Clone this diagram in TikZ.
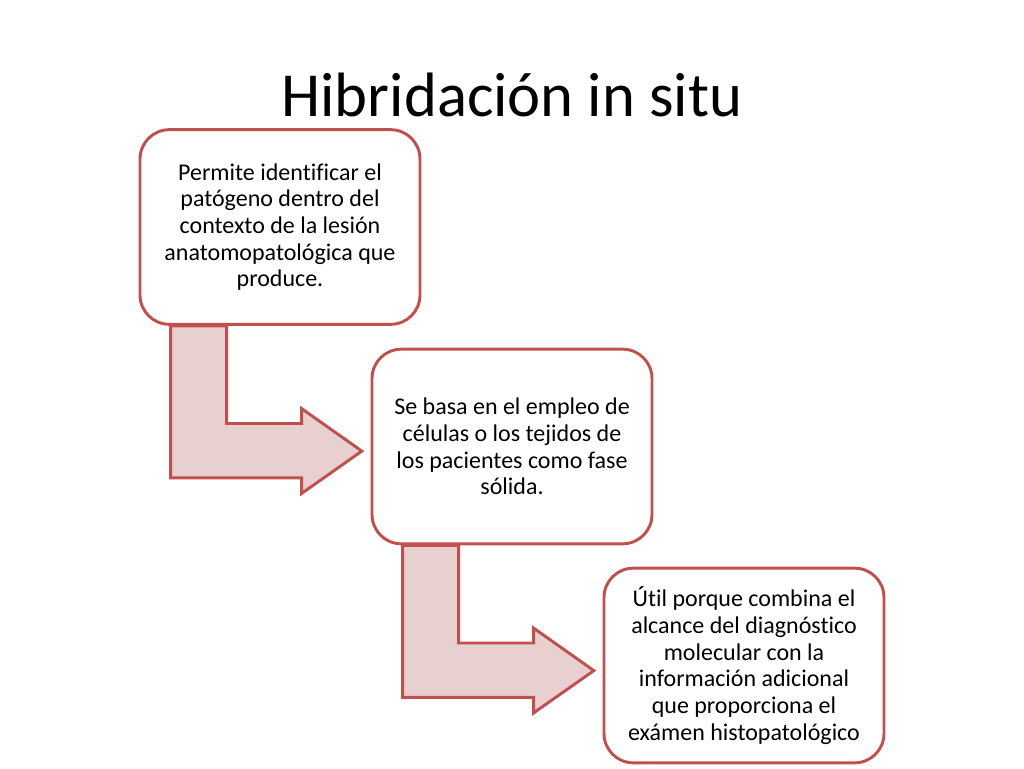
\documentclass[tikz,border=0pt]{standalone}
\usepackage{fontspec}
\setmainfont{Carlito}[Ligatures={NoCommon}]
\usetikzlibrary{calc,backgrounds}
\definecolor{bord}{HTML}{C0504D}
\definecolor{pinkfill}{HTML}{E8D0D0}
\begin{document}
\begin{tikzpicture}[x=0.75pt,y=-0.75pt,
  box/.style={draw=bord,fill=white,line width=2.2pt,rounded corners=22pt,
    minimum width=210pt,minimum height=146pt,align=center,inner sep=0pt,
    font=\fontsize{18}{20}\selectfont},
  bentarrow/.style={draw=bord,fill=pinkfill,line width=2.2pt,line join=miter}]
\useasboundingbox (0,0) rectangle (1024,768);
\node[anchor=base,font=\fontsize{47}{56}\selectfont] (title) at (512,116) {Hibridación in situ};
\node[box] (b1) at (280,227) {Permite identificar el\\patógeno dentro del\\contexto de la lesión\\anatomopatológica que\\produce.};
\node[box] (b2) at (512,446.5) {Se basa en el empleo de\\células o los tejidos de\\los pacientes como fase\\sólida.};
\node[box] (b3) at (744,665.5) {Útil porque combina el\\alcance del diagnóstico\\molecular con la\\información adicional\\que proporciona el\\exámen histopatológico};
\begin{scope}[on background layer]
\foreach \b in {b1,b2}{
\draw[bentarrow] ($(\b.south west)+(32,0)$) -- ++(0,152) -- ++(131,0) -- ++(0,15.7)
  -- ++(60.3,-42.4) -- ++(-60.3,-42.6) -- ++(0,15) -- ++(-75,0) -- ++(0,-97.7) -- cycle;
}
\end{scope}
\end{tikzpicture}
\end{document}
